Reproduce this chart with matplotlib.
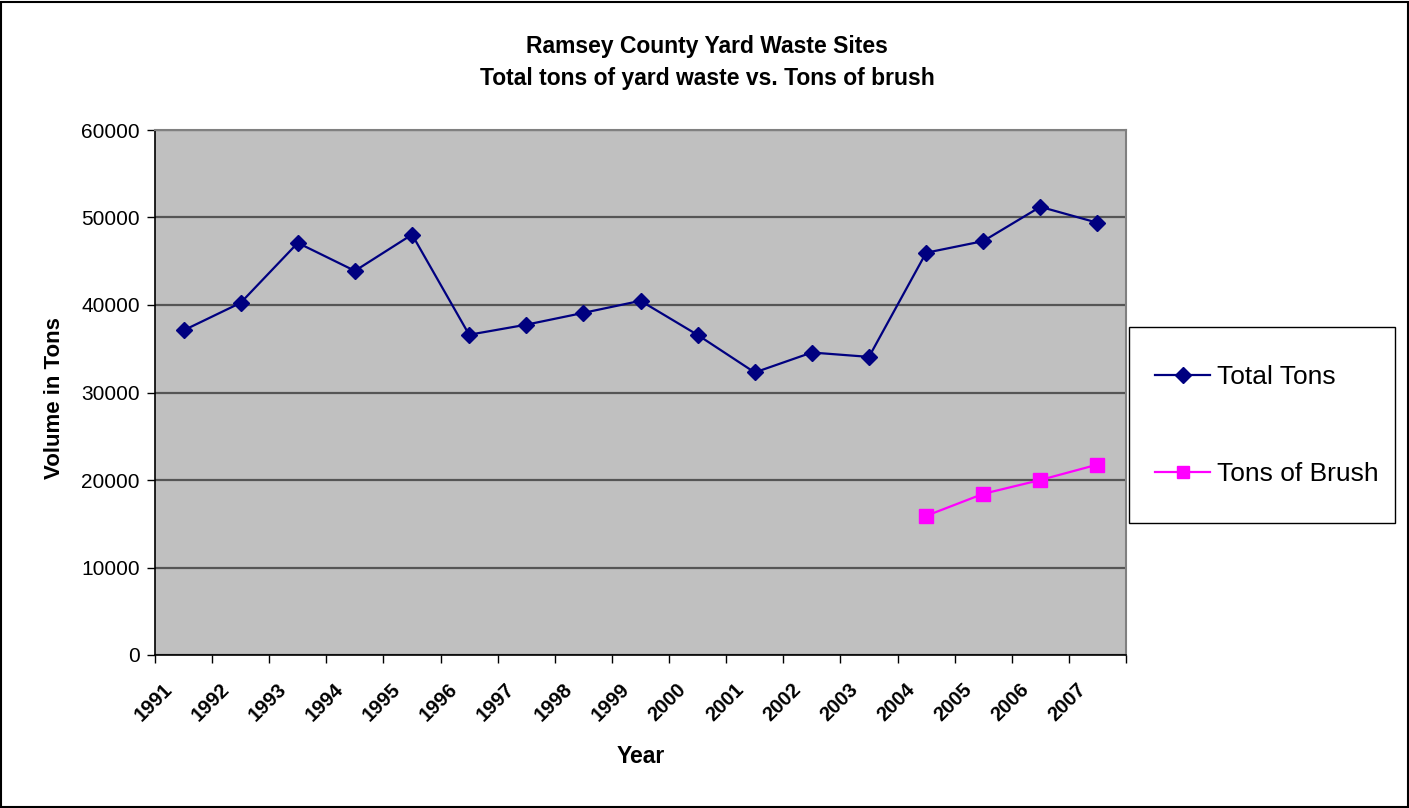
import matplotlib.pyplot as plt
from matplotlib.patches import Rectangle
from matplotlib.transforms import ScaledTranslation
import numpy as np

plt.rcParams['font.family'] = ['Liberation Sans', 'DejaVu Sans']

# Data
years = ['1991', '1992', '1993', '1994', '1995', '1996', '1997', '1998', '1999',
         '2000', '2001', '2002', '2003', '2004', '2005', '2006', '2007']
total_tons = [37100, 40250, 47100, 43900, 48050, 36600, 37750, 39100, 40480,
              36580, 32290, 34570, 34070, 45970, 47300, 51220, 49400]
brush_years = ['2004', '2005', '2006', '2007']
brush_tons = [15900, 18420, 20000, 21760]

x = np.arange(len(years))
xb = np.array([years.index(y) for y in brush_years])

W, H = 1409, 808
fig = plt.figure(figsize=(W / 100, H / 100), dpi=100)
ax = fig.add_axes([155 / W, 1 - 655 / H, (1126 - 155) / W, (655 - 130) / H])
ax.set_facecolor('#C0C0C0')

# Gridlines
ax.set_ylim(0, 60000)
ax.set_yticks(np.arange(0, 60001, 10000))
ax.yaxis.grid(True, color='#555555', linewidth=1.6)
ax.set_axisbelow(True)

ax.plot(x, total_tons, color='#000080', linewidth=1.6, marker='D', markersize=8.5,
        label='Total Tons')
ax.plot(xb, brush_tons, color='#FF00FF', linewidth=1.6, marker='s', markersize=10,
        label='Tons of Brush')

# Category axis: tick marks at boundaries, labels at centres
ax.set_xlim(-0.5, len(years) - 0.5)
ax.set_xticks(np.arange(-0.5, len(years)), labels=[])
ax.set_xticks(x, labels=years, minor=True)
ax.tick_params(axis='x', which='major', direction='out', length=6, width=1)
ax.tick_params(axis='x', which='minor', length=0, pad=18)
shift = ScaledTranslation(-21 / 100, 0, fig.dpi_scale_trans)
for lbl in ax.get_xticklabels(minor=True):
    lbl.set_rotation(45)
    lbl.set_ha('right')
    lbl.set_rotation_mode('anchor')
    lbl.set_fontweight('bold')
    lbl.set_fontsize(14.5)
    lbl.set_transform(lbl.get_transform() + shift)
ax.tick_params(axis='y', direction='out', length=6, width=1, labelsize=15, pad=5)

for side in ['top', 'right']:
    ax.spines[side].set_color('#808080')
    ax.spines[side].set_linewidth(1.5)
for side in ['left', 'bottom']:
    ax.spines[side].set_color('black')
    ax.spines[side].set_linewidth(1.2)

ax.set_xlabel('Year', fontsize=16.5, fontweight='bold', labelpad=14)
ax.set_ylabel('Volume in Tons', fontsize=16, fontweight='bold')
ax.yaxis.set_label_coords(-0.093, 0.49)

fig.text(707 / W, 1 - 47 / H, 'Ramsey County Yard Waste Sites',
         ha='center', va='center', fontsize=16.5, fontweight='bold')
fig.text(707 / W, 1 - 78 / H, 'Total tons of yard waste vs. Tons of brush',
         ha='center', va='center', fontsize=16.5, fontweight='bold')

# Legend box
fig.patches.append(Rectangle((1129 / W, 1 - 523 / H), (1395 - 1129) / W, (523 - 327) / H,
                             transform=fig.transFigure, facecolor='white',
                             edgecolor='black', linewidth=1.0, zorder=-1))
leg = ax.legend(loc='center left', bbox_to_anchor=(1155 / W, 1 - 425.5 / H),
                bbox_transform=fig.transFigure, fontsize=19, frameon=False,
                borderpad=0, borderaxespad=0, handlelength=2.1,
                labelspacing=2.78, handletextpad=0.25, markerscale=0.9)

# Outer chart border
fig.patches.append(Rectangle((0.001, 0.001), 0.998, 0.997, transform=fig.transFigure,
                             fill=False, edgecolor='black', linewidth=1.5))

fig.savefig('out.png', dpi=100)
